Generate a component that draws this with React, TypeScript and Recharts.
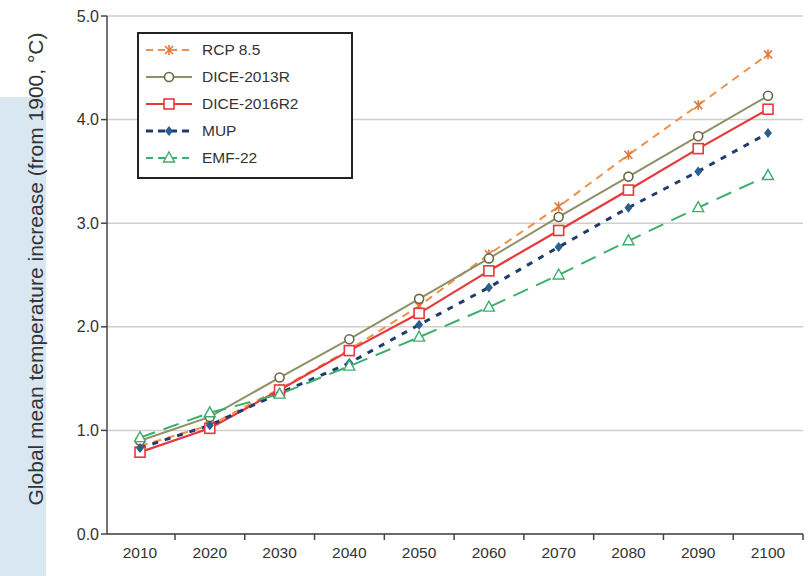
import React from "react";
import { LineChart, Line, XAxis, YAxis, CartesianGrid } from "recharts";

const years = ["2010", "2020", "2030", "2040", "2050", "2060", "2070", "2080", "2090", "2100"];
const rcp85 = [0.85, 1.05, 1.4, 1.78, 2.2, 2.7, 3.16, 3.66, 4.14, 4.63];
const dice2013r = [0.9, 1.13, 1.51, 1.88, 2.27, 2.66, 3.06, 3.45, 3.84, 4.23];
const dice2016r2 = [0.79, 1.02, 1.39, 1.77, 2.13, 2.54, 2.93, 3.32, 3.72, 4.1];
const mup = [0.83, 1.05, 1.36, 1.65, 2.02, 2.38, 2.77, 3.15, 3.5, 3.87];
const emf22 = [0.93, 1.17, 1.35, 1.62, 1.9, 2.19, 2.5, 2.83, 3.15, 3.46];
const yTicks = [0, 1, 2, 3, 4, 5];

const data = years.map((year, i) => ({
  year,
  rcp85: rcp85[i],
  dice2013r: dice2013r[i],
  dice2016r2: dice2016r2[i],
  mup: mup[i],
  emf22: emf22[i],
}));

const FONT = "'Liberation Sans', Arial, sans-serif";

type Shape = "cross" | "circle" | "square" | "diamond" | "triangle";

const Marker = ({ cx, cy, shape, color }: { cx: number; cy: number; shape: Shape; color: string }) => {
  if (cx == null || cy == null) return null;
  switch (shape) {
    case "cross":
      return (
        <g stroke={color} strokeWidth={1.6}>
          <line x1={cx - 4} y1={cy - 4} x2={cx + 4} y2={cy + 4} />
          <line x1={cx - 4} y1={cy + 4} x2={cx + 4} y2={cy - 4} />
          <line x1={cx} y1={cy - 5} x2={cx} y2={cy + 5} />
        </g>
      );
    case "circle":
      return <circle cx={cx} cy={cy} r={4.5} fill="#fff" stroke={color} strokeWidth={1.6} />;
    case "square":
      return <rect x={cx - 5} y={cy - 5} width={10} height={10} fill="#fff" stroke={color} strokeWidth={1.6} />;
    case "diamond":
      return <path d={`M${cx},${cy - 5} L${cx + 4},${cy} L${cx},${cy + 5} L${cx - 4},${cy} Z`} fill={color} />;
    case "triangle":
      return (
        <path
          d={`M${cx},${cy - 6} L${cx + 5.5},${cy + 4} L${cx - 5.5},${cy + 4} Z`}
          fill="#fff"
          stroke={color}
          strokeWidth={1.4}
        />
      );
  }
  return null;
};

const series = [
  { key: "rcp85", name: "RCP 8.5", color: "#f0904a", marker: "#e07a3a", dash: "8 6", width: 2, shape: "cross" as Shape },
  { key: "dice2013r", name: "DICE-2013R", color: "#8f9065", marker: "#6b6848", dash: undefined, width: 2, shape: "circle" as Shape },
  { key: "dice2016r2", name: "DICE-2016R2", color: "#e8383c", marker: "#e8383c", dash: undefined, width: 2.2, shape: "square" as Shape },
  { key: "mup", name: "MUP", color: "#203c6c", marker: "#2a5f8f", dash: "6 7", width: 3, shape: "diamond" as Shape },
  { key: "emf22", name: "EMF-22", color: "#3dae6e", marker: "#3dae6e", dash: "16 9", width: 2, shape: "triangle" as Shape },
];

const XTick = (props: any) => {
  const { x, y, payload } = props;
  return (
    <g>
      <line x1={x + 35} y1={y - 8} x2={x + 35} y2={y - 2} stroke="#444" strokeWidth={1.5} />
      <text x={x} y={y + 16} textAnchor="middle" fontSize={15.5} fill="#333" fontFamily={FONT}>
        {payload.value}
      </text>
    </g>
  );
};

// legend is a plain box laid over the plot area
const LegendBox = () => (
  <div
    style={{
      position: "absolute",
      left: 137,
      top: 32,
      width: 216,
      height: 147,
      border: "2px solid #222",
      background: "#fff",
      boxSizing: "border-box",
      paddingTop: 2,
      fontFamily: FONT,
    }}
  >
    {series.map((s) => (
      <div key={s.key} style={{ display: "flex", alignItems: "center", height: 27 }}>
        <svg width={58} height={16} style={{ marginLeft: 5 }}>
          <line x1={2} y1={8} x2={48} y2={8} stroke={s.color} strokeWidth={s.width} strokeDasharray={s.dash ? "7 5" : undefined} />
          <Marker cx={25} cy={8} shape={s.shape} color={s.marker} />
        </svg>
        <span style={{ fontSize: 15.5, color: "#333" }}>{s.name}</span>
      </div>
    ))}
  </div>
);

export default function App() {
  return (
    <div style={{ position: "absolute", left: 0, top: 0, width: 809, height: 576, background: "#fff", overflow: "hidden" }}>
      <div style={{ position: "absolute", left: 0, top: 97, width: 46, height: 479, background: "#d8e7f1" }} />
      <div
        style={{
          position: "absolute",
          left: 36,
          top: 269,
          transform: "translate(-50%, -50%) rotate(-90deg)",
          whiteSpace: "nowrap",
          fontSize: 21,
          color: "#333",
          fontFamily: FONT,
        }}
      >
        Global mean temperature increase (from 1900, °C)
      </div>
      <LineChart
        width={809}
        height={576}
        data={data}
        margin={{ top: 16, right: 6, bottom: 12, left: 47 }}
        style={{ position: "absolute", left: 0, top: 0 }}
      >
        <CartesianGrid vertical={false} stroke="#cfcfcf" strokeWidth={1.5} />
        <XAxis
          dataKey="year"
          height={30}
          padding={{ left: 33, right: 35 }}
          tickLine={false}
          axisLine={{ stroke: "#444", strokeWidth: 1.5 }}
          tick={<XTick />}
          interval={0}
        />
        <YAxis
          width={60}
          domain={[0, 5]}
          ticks={yTicks}
          tickFormatter={(v: number) => v.toFixed(1)}
          axisLine={{ stroke: "#444", strokeWidth: 1.5 }}
          tickLine={{ stroke: "#444", strokeWidth: 1.5 }}
          tickSize={6}
          tick={{ fontSize: 16, fill: "#333", fontFamily: FONT }}
        />
        {series.map((s) => (
          <Line
            key={s.key}
            type="linear"
            dataKey={s.key}
            name={s.name}
            stroke={s.color}
            strokeWidth={s.width}
            strokeDasharray={s.dash}
            isAnimationActive={false}
            dot={(p: any) => <Marker key={`${s.key}-${p.index}`} cx={p.cx} cy={p.cy} shape={s.shape} color={s.marker} />}
            activeDot={false}
          />
        ))}
      </LineChart>
      <LegendBox />
    </div>
  );
}
